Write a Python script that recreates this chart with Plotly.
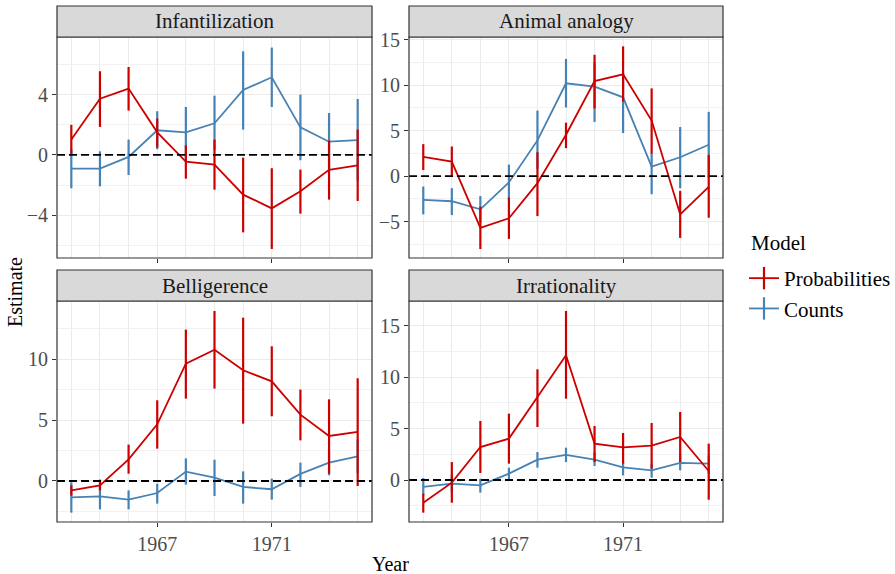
import plotly.graph_objects as go

years = list(range(1964, 1975))
panels = ["Infantilization", "Animal analogy", "Belligerence", "Irrationality"]

# Probabilities model: estimate, upper, lower
prob_est = {
    "Infantilization": [1.02, 3.73, 4.40, 1.50, -0.44, -0.64, -2.63, -3.54, -2.41, -0.99, -0.69],
    "Animal analogy": [2.11, 1.59, -5.69, -4.65, -0.78, 4.54, 10.45, 11.19, 6.10, -4.21, -1.18],
    "Belligerence": [-0.77, -0.36, 1.78, 4.66, 9.64, 10.79, 9.10, 8.19, 5.45, 3.70, 4.03],
    "Irrationality": [-2.21, -0.26, 3.21, 4.03, 8.08, 12.14, 3.54, 3.18, 3.34, 4.19, 0.88],
}
prob_hi = {
    "Infantilization": [2.00, 5.55, 5.83, 2.41, 0.64, 1.02, -0.18, -0.88, -0.97, 0.95, 1.68],
    "Animal analogy": [3.51, 3.25, -3.36, -2.36, 2.62, 5.87, 13.34, 14.26, 9.64, -1.63, 2.33],
    "Belligerence": [-0.36, 0.11, 2.99, 6.63, 12.44, 13.97, 13.42, 11.07, 7.51, 6.71, 8.44],
    "Irrationality": [-1.33, 1.75, 5.75, 6.46, 10.78, 16.46, 5.26, 4.58, 5.55, 6.62, 3.54],
}
prob_lo = {
    "Infantilization": [0.00, 1.86, 2.94, 0.49, -1.57, -2.30, -5.13, -6.23, -3.89, -2.96, -3.05],
    "Animal analogy": [0.66, 0.04, -8.02, -6.91, -4.40, 3.07, 7.43, 8.20, 2.44, -6.80, -4.58],
    "Belligerence": [-1.21, -0.77, 0.60, 2.66, 6.77, 7.59, 4.71, 5.32, 3.34, 0.60, -0.41],
    "Irrationality": [-3.18, -2.21, 0.68, 1.59, 5.16, 7.92, 1.75, 1.59, 1.10, 1.75, -1.92],
}

# Counts model: estimate, upper, lower
count_est = {
    "Infantilization": [-0.91, -0.91, -0.13, 1.64, 1.50, 2.10, 4.31, 5.15, 1.83, 0.88, 0.99],
    "Animal analogy": [-2.62, -2.77, -3.66, -0.70, 3.92, 10.20, 9.83, 8.66, 1.03, 2.07, 3.44],
    "Belligerence": [-1.34, -1.26, -1.53, -0.99, 0.77, 0.27, -0.49, -0.68, 0.58, 1.51, 2.03],
    "Irrationality": [-0.68, -0.36, -0.52, 0.62, 1.98, 2.44, 1.98, 1.23, 0.94, 1.66, 1.59],
}
count_hi = {
    "Infantilization": [0.40, 0.24, 1.02, 2.90, 3.18, 3.93, 6.87, 7.12, 4.00, 2.78, 3.71],
    "Animal analogy": [-1.15, -1.33, -2.20, 1.26, 7.20, 12.89, 12.50, 11.40, 2.44, 5.39, 7.06],
    "Belligerence": [-0.10, -0.36, -0.77, -0.22, 1.86, 1.75, 0.79, 0.19, 1.51, 2.52, 3.40],
    "Irrationality": [0.19, 0.50, 0.13, 1.20, 2.73, 3.15, 2.70, 1.75, 1.59, 2.56, 2.40],
}
count_lo = {
    "Infantilization": [-2.21, -2.08, -1.33, 0.38, -0.20, 0.35, 1.68, 3.18, -0.35, -0.97, -1.70],
    "Animal analogy": [-4.21, -4.29, -5.10, -2.55, 0.78, 7.54, 5.95, 4.73, -1.99, -1.33, -0.20],
    "Belligerence": [-2.60, -2.33, -2.33, -1.86, -0.30, -1.23, -1.86, -1.53, -0.49, 0.47, 0.65],
    "Irrationality": [-1.49, -1.20, -1.23, -0.03, 1.20, 1.75, 1.36, 0.45, 0.23, 0.94, 0.60],
}

x_ticks = [1967, 1971]
y_ranges = {
    "Infantilization": [-6.83, 7.82],
    "Animal analogy": [-9.01, 15.29],
    "Belligerence": [-3.37, 14.79],
    "Irrationality": [-4.09, 17.43],
}
y_dtick = {"Infantilization": 4, "Animal analogy": 5, "Belligerence": 5, "Irrationality": 5}

RED = "#CD0000"
BLUE = "#4682B4"
W, H = 895, 574
FONT = "Liberation Serif"

# panel pixel boxes (x0, x1, y0_top, y1_bottom) for plot areas
boxes = {
    "Infantilization": (57, 372, 37, 258),
    "Animal analogy": (409, 723, 37, 258),
    "Belligerence": (57, 372, 301, 522),
    "Irrationality": (409, 723, 301, 522),
}
strip_h = 31

fig = go.Figure()
layout = dict(
    width=W, height=H,
    margin=dict(l=0, r=0, t=0, b=0, autoexpand=False),
    paper_bgcolor="white", plot_bgcolor="white",
    font=dict(family=FONT, size=20, color="#1A1A1A"),
    showlegend=True,
)
shapes = []
annotations = []

for i, p in enumerate(panels):
    n = i + 1
    xa = "x" if n == 1 else f"x{n}"
    ya = "y" if n == 1 else f"y{n}"
    x0, x1, yt, yb = boxes[p]
    dx = [x0 / W, x1 / W]
    dy = [1 - yb / H, 1 - yt / H]
    bottom = i >= 2
    layout["xaxis" if n == 1 else f"xaxis{n}"] = dict(
        domain=dx, anchor=ya, range=[1963.5, 1974.5], automargin=False,
        tickmode="array", tickvals=x_ticks,
        showticklabels=bottom, ticks="outside", ticklen=4, tickcolor="#333333",
        tickfont=dict(family=FONT, size=20, color="#4D4D4D"),
        showgrid=True, gridcolor="#EBEBEB", gridwidth=1.1,
        minor=dict(tickmode="linear", tick0=1964, dtick=1, showgrid=True,
                   gridcolor="#EBEBEB", gridwidth=1.1, ticks=""),
        zeroline=False, showline=False,
    )
    d = y_dtick[p]
    layout["yaxis" if n == 1 else f"yaxis{n}"] = dict(
        domain=dy, anchor=xa, range=y_ranges[p], automargin=False,
        tickmode="linear", tick0=0, dtick=d,
        ticks="outside", ticklen=4, tickcolor="#333333",
        tickfont=dict(family=FONT, size=20, color="#4D4D4D"),
        showgrid=True, gridcolor="#EBEBEB", gridwidth=1.1,
        minor=dict(tickmode="linear", tick0=d / 2, dtick=d, showgrid=True,
                   gridcolor="#F2F2F2", gridwidth=0.6, ticks=""),
        zeroline=False, showline=False,
    )
    # counts first (beneath), probabilities on top
    for est, hi, lo, col in [(count_est, count_hi, count_lo, BLUE),
                             (prob_est, prob_hi, prob_lo, RED)]:
        e = est[p]
        fig.add_trace(go.Scatter(
            x=years, y=e, mode="lines", xaxis=xa, yaxis=ya,
            line=dict(color=col, width=1.8), showlegend=False, hoverinfo="skip",
            error_y=dict(type="data", symmetric=False,
                         array=[h - v for h, v in zip(hi[p], e)],
                         arrayminus=[v - l for v, l in zip(e, lo[p])],
                         color=col, thickness=2.2, width=0),
        ))
    # zero dashed line
    shapes.append(dict(type="line", xref=f"{xa} domain", yref=ya, x0=0, x1=1, y0=0, y1=0,
                       line=dict(color="black", width=1.8, dash="8px,4px"), layer="above"))
    # panel border
    shapes.append(dict(type="rect", xref="paper", yref="paper", x0=dx[0], x1=dx[1],
                       y0=dy[0], y1=dy[1], line=dict(color="#333333", width=1.2), layer="above"))
    # strip
    shapes.append(dict(type="rect", xref="paper", yref="paper", x0=dx[0], x1=dx[1],
                       y0=dy[1], y1=dy[1] + strip_h / H, fillcolor="#D9D9D9",
                       line=dict(color="#333333", width=1.2), layer="above"))
    annotations.append(dict(text=p, xref="paper", yref="paper", x=(dx[0] + dx[1]) / 2,
                            y=dy[1] + strip_h / 2 / H, showarrow=False, xanchor="center",
                            yanchor="middle", font=dict(family=FONT, size=21, color="#1A1A1A")))

# legend entries
for name, col, rank in [("Probabilities", RED, 1), ("Counts", BLUE, 2)]:
    fig.add_trace(go.Scatter(
        x=[None], y=[None], mode="lines+markers", name=name, legendrank=rank,
        line=dict(color=col, width=1.8),
        marker=dict(symbol="line-ns-open", size=16, color=col, line=dict(color=col, width=2.2)),
    ))

annotations.append(dict(text="Estimate", xref="paper", yref="paper", x=15 / W, y=1 - 292 / H,
                        textangle=-90, showarrow=False, xanchor="center", yanchor="middle",
                        font=dict(family=FONT, size=20, color="black")))
annotations.append(dict(text="Year", xref="paper", yref="paper", x=390 / W, y=1 - 564 / H,
                        showarrow=False, xanchor="center", yanchor="middle",
                        font=dict(family=FONT, size=20, color="black")))
annotations.append(dict(text="Model", xref="paper", yref="paper", x=749 / W, y=1 - 243 / H,
                        showarrow=False, xanchor="left", yanchor="middle",
                        font=dict(family=FONT, size=21, color="black")))

layout["shapes"] = shapes
layout["annotations"] = annotations
layout["legend"] = dict(
    x=744 / W, y=1 - 258 / H, xanchor="left", yanchor="top",
    font=dict(family=FONT, size=21, color="black"),
    bgcolor="rgba(0,0,0,0)", itemwidth=30, tracegroupgap=0,
)
fig.update_layout(**layout)
fig.write_html("out.html", config={"displayModeBar": False},
               post_script="document.body.style.margin='0px';")
